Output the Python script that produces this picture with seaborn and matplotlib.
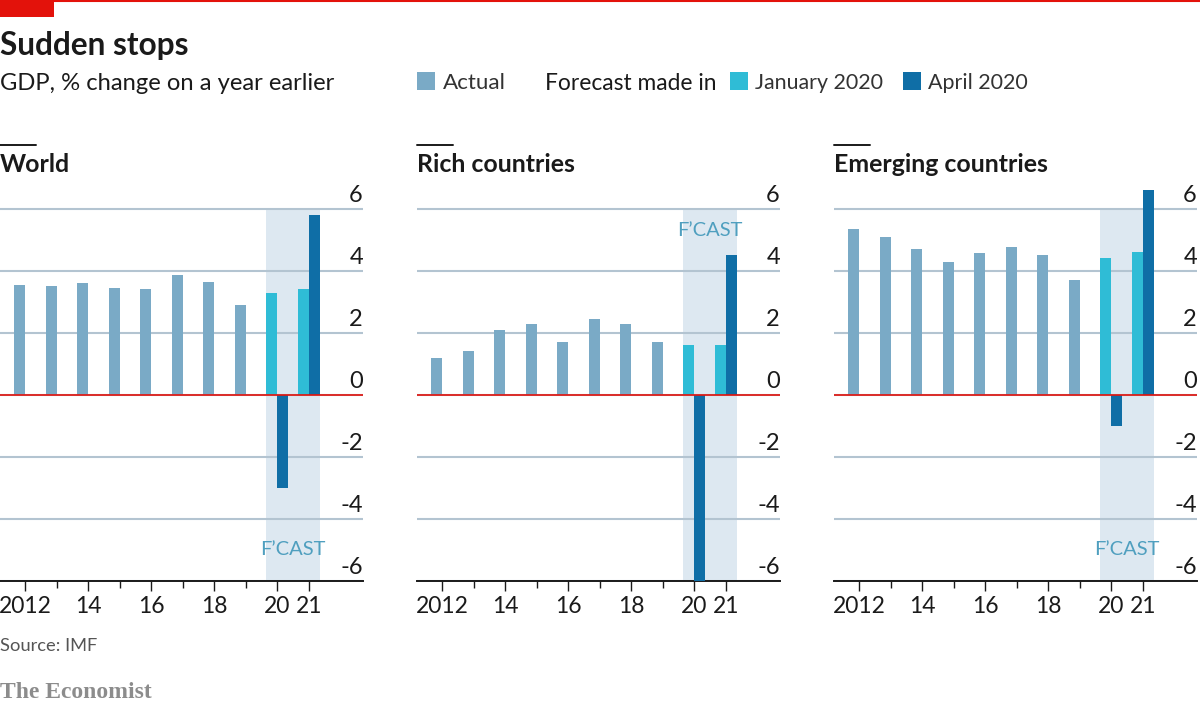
import pandas as pd
import numpy as np
import matplotlib
matplotlib.use("Agg")
import matplotlib.pyplot as plt
from matplotlib.patches import Rectangle
from matplotlib.transforms import ScaledTranslation
import seaborn as sns

actual_years = [2012, 2013, 2014, 2015, 2016, 2017, 2018, 2019]
forecast_years = [2020, 2021]

world_actual = [3.55, 3.5, 3.6, 3.45, 3.4, 3.85, 3.65, 2.9]
world_jan = [3.3, 3.4]
world_apr = [-3.0, 5.8]

rich_actual = [1.2, 1.4, 2.1, 2.3, 1.7, 2.45, 2.3, 1.7]
rich_jan = [1.6, 1.6]
rich_apr = [-6.1, 4.5]

emerging_actual = [5.35, 5.1, 4.7, 4.28, 4.58, 4.76, 4.52, 3.7]
emerging_jan = [4.4, 4.6]
emerging_apr = [-1.0, 6.6]

panel_names = ["World", "Rich countries", "Emerging countries"]
y_ticks = [-6, -4, -2, 0, 2, 4, 6]
major_years = [2012, 2014, 2016, 2018, 2020, 2021]
minor_years = [2013, 2015, 2017, 2019]
year_labels = ["2012", "14", "16", "18", "20", "21"]

C_ACTUAL = "#7aaac6"
C_JAN = "#2fbcd6"
C_APR = "#0f6ea6"
C_BAND = "#dde8f1"
C_GRID = "#b3c4d1"
C_RED = "#e3120b"
C_TEXT = "#1a1a1a"
C_FCAST = "#4f9fbf"

BAR_W = 0.35

sns.set_theme(style="white")
plt.rcParams["font.family"] = ["Lato", "DejaVu Sans"]

W, H = 1200, 708
fig = plt.figure(figsize=(W / 100, H / 100), dpi=100, facecolor="white")


def fx(px):
    return px / W


def fy(py):
    return 1 - py / H


def make_frame(actual, jan, apr):
    rows = []
    for yr, v in zip(actual_years, actual):
        rows.append((yr - BAR_W / 2, v, "Actual"))
    for yr, v in zip(forecast_years, jan):
        rows.append((yr - BAR_W / 2, v, "January 2020"))
    for yr, v in zip(forecast_years, apr):
        rows.append((yr + BAR_W / 2, v, "April 2020"))
    return pd.DataFrame(rows, columns=["pos", "value", "series"])


palette = {"Actual": C_ACTUAL, "January 2020": C_JAN, "April 2020": C_APR}
panels = [
    (0, world_actual, world_jan, world_apr, -5.0),
    (417, rich_actual, rich_jan, rich_apr, 5.3),
    (834, emerging_actual, emerging_jan, emerging_apr, -5.0),
]

for name, (left, actual, jan, apr, fcast_y) in zip(panel_names, panels):
    # axes run from -6 (y=581) to 6.8 (y=184)
    ax = fig.add_axes([fx(left), fy(581), 363 / W, 397 / H])
    ax.set_facecolor("none")
    df = make_frame(actual, jan, apr)
    sns.barplot(data=df, x="pos", y="value", hue="series", palette=palette,
                native_scale=True, dodge=False, width=1, saturation=1,
                linewidth=0, legend=False, ax=ax, zorder=3)

    ax.fill_between([2020 - BAR_W, 2021 + BAR_W], -6, 6, color=C_BAND, lw=0, zorder=0)
    ax.axhline(0, color=C_RED, lw=1.2, zorder=4)

    ax.set_xlim(2011.2, 2022.72)
    ax.set_ylim(-6, 6.8)
    ax.set_xlabel("")
    ax.set_ylabel("")

    ax.set_yticks(y_ticks)
    ax.set_yticklabels([str(t) for t in y_ticks], ha="right", va="bottom")
    ax.yaxis.tick_right()
    ax.tick_params(axis="y", length=0, pad=0, labelsize=17, labelcolor=C_TEXT)
    # nudge the numbers up a little off the gridlines
    for lab in ax.get_yticklabels():
        lab.set_transform(lab.get_transform() + ScaledTranslation(0, 3 / 100, fig.dpi_scale_trans))
    ax.grid(axis="y", color=C_GRID, lw=1.5, zorder=1)
    ax.set_axisbelow(True)

    ax.set_xticks(major_years)
    ax.set_xticklabels(year_labels)
    ax.set_xticks(minor_years, minor=True)
    ax.tick_params(axis="x", which="major", bottom=True, length=7.5, width=1,
                   color=C_TEXT, labelsize=16.5, labelcolor=C_TEXT, pad=3)
    ax.tick_params(axis="x", which="minor", bottom=True, length=5, width=1, color=C_TEXT)

    sns.despine(ax=ax, left=True, right=True, top=True)
    ax.spines["bottom"].set_color(C_TEXT)
    ax.spines["bottom"].set_linewidth(1.4)

    ax.text(2020.5, fcast_y, "F’CAST", color=C_FCAST, fontsize=14.5, ha="center",
            va="center", zorder=5)

    fig.add_artist(plt.Line2D([fx(left), fx(left + 36)], [fy(145), fy(145)],
                              color=C_TEXT, lw=1.4))
    fig.text(fx(left), fy(165), name, fontsize=17.9, fontweight="bold", color=C_TEXT,
             va="center", ha="left")

# top bar
fig.add_artist(plt.Line2D([0, 1], [fy(1), fy(1)], color=C_RED, lw=1.5))
fig.add_artist(Rectangle((0, fy(17)), fx(54), 17 / H, transform=fig.transFigure,
                         color=C_RED, lw=0))

fig.text(0, fy(46), "Sudden stops", fontsize=22.8, fontweight="bold", color=C_TEXT,
         va="center", ha="left")
fig.text(0, fy(83), "GDP, % change on a year earlier", fontsize=17.1, color=C_TEXT,
         va="center", ha="left")

# legend
for sq_x, col in [(417, C_ACTUAL), (730, C_JAN), (903, C_APR)]:
    fig.add_artist(Rectangle((fx(sq_x), fy(90)), 18 / W, 18 / H,
                             transform=fig.transFigure, color=col, lw=0))
fig.text(fx(443), fy(83), "Actual", fontsize=16.1, color="#333333", va="center")
fig.text(fx(545), fy(83), "Forecast made in", fontsize=16.4, color=C_TEXT, va="center")
fig.text(fx(755), fy(83), "January 2020", fontsize=15.4, color="#333333", va="center")
fig.text(fx(928), fy(83), "April 2020", fontsize=15.4, color="#333333", va="center")

fig.text(0, fy(646), "Source: IMF", fontsize=13.2, color="#555555", va="center")
fig.text(0, fy(693), "The Economist", fontsize=17, color="#8c8c8c", fontweight="bold",
         family="Liberation Serif", va="center")

fig.savefig("out.png", dpi=100, facecolor="white")
